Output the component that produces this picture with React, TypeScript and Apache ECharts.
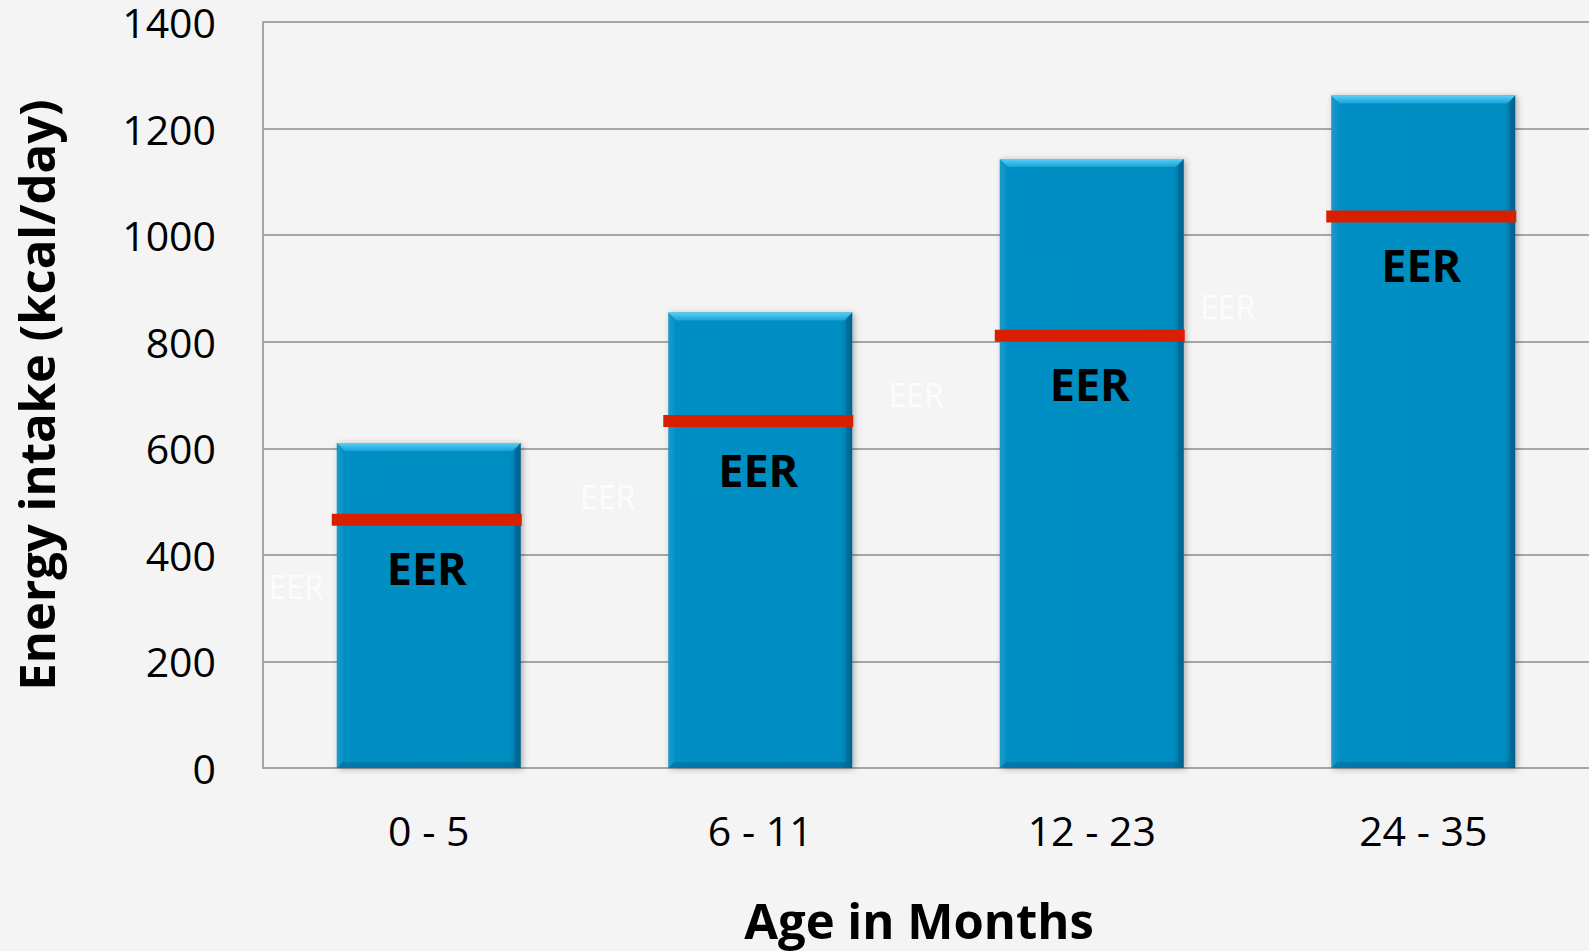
import React, { useEffect, useRef } from "react";
import * as echarts from "echarts";

// Age groups (months) and mean energy intake vs. estimated energy requirement
const categories = ["0 - 5", "6 - 11", "12 - 23", "24 - 35"];
const intake = [610, 855, 1143, 1262];
const eer = [466, 651, 811, 1035];

// Faint secondary "EER" captions (x in category units, y in kcal/day)
const noteX = [-0.4, 0.54, 1.47, 2.41];
const noteY = [341, 510, 701, 866];

const yTicks = { min: 0, max: 1400, interval: 200 };

const BAR_RATIO = 0.555;
const FONT = '"Open Sans", "Noto Sans", sans-serif';

export default function App() {
  const ref = useRef<HTMLDivElement>(null);

  useEffect(() => {
    document.body.style.margin = "0";
    const chart = echarts.init(ref.current!, null, { renderer: "svg" });

    const bevelTop = new echarts.graphic.LinearGradient(0, 0, 0, 1, [
      { offset: 0, color: "#5ACFF7" },
      { offset: 1, color: "#17A3D8" },
    ]);

    const option: any = {
      animation: false,
      backgroundColor: "#F4F4F4",
      grid: { left: 263, top: 19, right: 0, bottom: 183, containLabel: false },
      xAxis: [
        {
          type: "category",
          data: categories,
          boundaryGap: true,
          axisLine: { show: true, lineStyle: { color: "#A6A6A6", width: 2 } },
          axisTick: { show: false },
          axisLabel: {
            color: "#000",
            fontFamily: FONT,
            fontSize: 41,
            lineHeight: 48,
            margin: 38,
          },
          name: "Age in Months",
          nameLocation: "middle",
          nameGap: 132,
          nameTextStyle: {
            color: "#000",
            fontFamily: FONT,
            fontSize: 49,
            lineHeight: 40,
            fontWeight: "bold",
            padding: [0, 14, 0, 0],
          },
        },
        {
          type: "value",
          min: -0.5,
          max: 3.5,
          show: false,
          axisLine: { show: false },
          axisTick: { show: false },
          axisLabel: { show: false },
          splitLine: { show: false },
        },
      ],
      yAxis: {
        type: "value",
        min: yTicks.min,
        max: yTicks.max,
        interval: yTicks.interval,
        axisLine: {
          show: true,
          onZero: false,
          lineStyle: { color: "#A6A6A6", width: 2 },
        },
        axisTick: { show: false },
        splitLine: { show: true, lineStyle: { color: "#A6A6A6", width: 2 } },
        axisLabel: {
          color: "#000",
          fontFamily: FONT,
          fontSize: 41,
          lineHeight: 36,
          margin: 47,
          padding: [8, 0, 0, 0],
          formatter: (v: number) => String(v),
        },
        name: "Energy intake (kcal/day)",
        nameLocation: "middle",
        nameGap: 203,
        nameTextStyle: {
          color: "#000",
          fontFamily: FONT,
          fontSize: 49,
          fontWeight: "bold",
        },
      },
      series: [
        {
          type: "bar",
          data: intake,
          barWidth: BAR_RATIO * 100 + "%",
          itemStyle: {
            color: new echarts.graphic.LinearGradient(0, 0, 1, 0, [
              { offset: 0, color: "#0A93C7" },
              { offset: 0.05, color: "#008FC4" },
              { offset: 0.94, color: "#008DC1" },
              { offset: 1, color: "#006F9C" },
            ]),
            shadowBlur: 6,
            shadowColor: "rgba(0,0,0,0.3)",
            shadowOffsetX: 2,
            shadowOffsetY: 1,
          },
        },
        {
          type: "custom",
          data: categories.map((_, i) => [i, eer[i], intake[i]]),
          z: 5,
          renderItem: (_params: any, api: any) => {
            const idx = api.value(0);
            const eerVal = api.value(1);
            const top = api.value(2);
            const band = api.size([1, 0])[0];
            const barW = band * BAR_RATIO;
            const [cx, ey] = api.coord([idx, eerVal]);
            const ty = api.coord([idx, top])[1];
            const by = api.coord([idx, 0])[1];
            const left = cx - barW / 2;
            const right = cx + barW / 2;
            const bev = 8;
            const side = 6;
            return {
              type: "group",
              children: [
                {
                  type: "polygon",
                  shape: {
                    points: [
                      [left, ty],
                      [right, ty],
                      [right - bev, ty + bev],
                      [left + bev, ty + bev],
                    ],
                  },
                  style: { fill: bevelTop },
                },
                {
                  type: "polygon",
                  shape: {
                    points: [
                      [right, ty],
                      [right, by],
                      [right - side, by - side],
                      [right - side, ty + bev],
                    ],
                  },
                  style: { fill: "rgba(0,50,90,0.22)" },
                },
                {
                  type: "polygon",
                  shape: {
                    points: [
                      [left, by],
                      [right, by],
                      [right - side, by - side],
                      [left + side, by - side],
                    ],
                  },
                  style: { fill: "rgba(0,50,90,0.25)" },
                },
                {
                  type: "polygon",
                  shape: {
                    points: [
                      [left, ty],
                      [left + side, ty + bev],
                      [left + side, by - side],
                      [left, by],
                    ],
                  },
                  style: { fill: "rgba(255,255,255,0.05)" },
                },
                {
                  type: "rect",
                  shape: { x: left - 5, y: ey - 6, width: barW + 6, height: 12 },
                  style: { fill: "#D82000" },
                },
                {
                  type: "text",
                  style: {
                    text: "EER",
                    x: cx - 2,
                    y: ey + 48,
                    align: "center",
                    verticalAlign: "middle",
                    fontFamily: FONT,
                    fontSize: 45,
                    fontWeight: "bold",
                    fill: "#000",
                  },
                },
              ],
            };
          },
        },
        {
          type: "scatter",
          xAxisIndex: 1,
          data: noteX.map((x, i) => [x, noteY[i]]),
          symbolSize: 1,
          itemStyle: { color: "rgba(0,0,0,0)" },
          z: 1,
          label: {
            show: true,
            position: "inside",
            formatter: "EER",
            color: "#FFFFFF",
            fontFamily: FONT,
            fontSize: 32,
          },
        },
      ],
    };

    chart.setOption(option);
    return () => chart.dispose();
  }, []);

  return (
    <div
      ref={ref}
      style={{ position: "fixed", left: 0, top: 0, width: 1589, height: 951 }}
    />
  );
}
